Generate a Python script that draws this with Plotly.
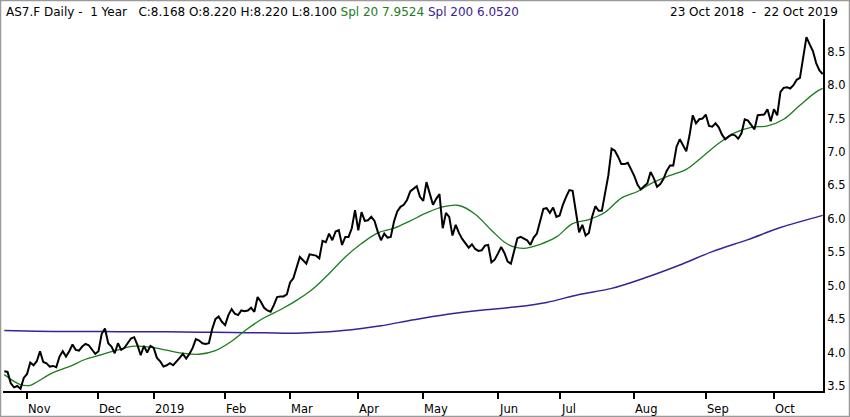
import plotly.graph_objects as go

# daily closes, one per trading day, 23 Oct 2018 .. 22 Oct 2019
close = [
    3.72, 3.71, 3.54, 3.48, 3.50, 3.46, 3.62, 3.68, 3.85, 3.81,
    3.87, 4.02, 3.86, 3.84, 3.79, 3.80, 3.78, 3.94, 4.02, 3.94,
    4.02, 4.12, 4.04, 4.03, 4.09, 4.13, 4.11, 4.04, 3.98, 4.02,
    4.28, 4.36, 4.14, 4.09, 3.99, 4.14, 4.04, 4.07, 4.15, 4.21,
    4.23, 4.11, 3.96, 4.10, 4.00, 4.10, 4.07, 3.92, 3.87, 3.79,
    3.81, 3.84, 3.81, 3.86, 3.92, 3.98, 3.91, 3.98, 4.07, 4.20,
    4.18, 4.14, 4.13, 4.14, 4.35, 4.50, 4.54, 4.46, 4.41, 4.56,
    4.65, 4.58, 4.56, 4.63, 4.62, 4.63, 4.67, 4.61, 4.83, 4.76,
    4.67, 4.63, 4.61, 4.71, 4.83, 4.84, 4.84, 4.87, 5.05, 5.11,
    5.26, 5.43, 5.38, 5.33, 5.47, 5.46, 5.45, 5.41, 5.67, 5.65,
    5.78, 5.68, 5.81, 5.83, 5.61, 5.73, 5.73, 5.86, 6.13, 5.83,
    6.10, 5.97, 5.98, 6.03, 5.97, 5.81, 5.68, 5.78, 5.72, 5.73,
    5.96, 6.11, 6.18, 6.21, 6.28, 6.41, 6.45, 6.49, 6.33, 6.27,
    6.55, 6.39, 6.21, 6.30, 6.37, 5.86, 6.09, 6.03, 5.75, 5.91,
    5.79, 5.70, 5.63, 5.57, 5.62, 5.55, 5.52, 5.53, 5.60, 5.61,
    5.35, 5.39, 5.48, 5.58, 5.49, 5.36, 5.33, 5.50, 5.71, 5.73,
    5.71, 5.68, 5.61, 5.72, 5.78, 5.95, 6.15, 6.16, 6.09, 6.17,
    6.03, 6.05, 6.21, 6.33, 6.43, 6.42, 6.07, 5.80, 5.91, 5.75,
    5.79, 6.03, 6.19, 6.12, 6.12, 6.42, 6.65, 7.05, 7.02, 6.93,
    6.82, 6.82, 6.84, 6.74, 6.64, 6.51, 6.44, 6.49, 6.53, 6.70,
    6.61, 6.48, 6.52, 6.60, 6.72, 6.80, 6.80, 7.08, 7.19, 7.10,
    7.01, 7.25, 7.55, 7.43, 7.49, 7.50, 7.56, 7.39, 7.38, 7.43,
    7.37, 7.26, 7.19, 7.23, 7.26, 7.25, 7.20, 7.28, 7.49, 7.47,
    7.41, 7.34, 7.55, 7.55, 7.56, 7.64, 7.46, 7.64, 7.55, 7.90,
    7.96, 7.97, 7.95, 8.00, 8.08, 8.11, 8.40, 8.72, 8.61, 8.51,
    8.33, 8.22, 8.168,
]

spl20_day = [0, 5, 8, 10, 15, 20, 25, 30, 35, 40, 45, 50, 55, 60, 65, 70,
             75, 80, 85, 90, 95, 100, 105, 110, 115, 120, 125, 130, 135,
             140, 145, 150, 155, 160, 165, 170, 175, 180, 185, 190, 195,
             200, 205, 210, 215, 220, 225, 230, 235, 240, 245, 250, 252]
spl20 = [3.67, 3.52, 3.51, 3.56, 3.70, 3.79, 3.90, 3.97, 4.04, 4.095, 4.08,
         4.035, 3.99, 3.975, 4.03, 4.17, 4.36, 4.52, 4.64, 4.78, 4.95, 5.18,
         5.43, 5.63, 5.79, 5.86, 5.97, 6.09, 6.18, 6.20, 6.07, 5.83, 5.62,
         5.56, 5.62, 5.73, 5.93, 5.99, 6.10, 6.31, 6.41, 6.55, 6.65, 6.74,
         6.93, 7.13, 7.29, 7.37, 7.39, 7.49, 7.70, 7.90, 7.9524]

spl200_day = [0, 10, 20, 30, 40, 50, 60, 70, 80, 90, 100, 110, 116, 126,
              136, 146, 157, 167, 177, 187, 198, 208, 218, 229, 239, 252]
spl200 = [4.33, 4.32, 4.315, 4.315, 4.31, 4.31, 4.305, 4.30, 4.295, 4.29,
          4.31, 4.36, 4.40, 4.49, 4.57, 4.63, 4.68, 4.75, 4.87, 4.96, 5.13,
          5.31, 5.51, 5.69, 5.87, 6.052]

month_day = [7, 29, 46, 68, 88, 109, 129, 152, 171, 194, 216, 237]
month_lbl = ["Nov", "Dec", "2019", "Feb", "Mar", "Apr", "May", "Jun",
             "Jul", "Aug", "Sep", "Oct"]
y_ticks = [3.5, 4.0, 4.5, 5.0, 5.5, 6.0, 6.5, 7.0, 7.5, 8.0, 8.5]

ticker = "AS7.F"
o, h, l, c = 8.220, 8.220, 8.100, 8.168
date_from, date_to = "23 Oct 2018", "22 Oct 2019"

green = "#1b7d1b"
purple = "#3b2196"
font = "DejaVu Sans"

fig = go.Figure()
fig.add_trace(go.Scatter(x=spl200_day, y=spl200, mode="lines",
                         line=dict(color=purple, width=1.5, shape="spline")))
fig.add_trace(go.Scatter(x=spl20_day, y=spl20, mode="lines",
                         line=dict(color=green, width=1.3, shape="spline")))
fig.add_trace(go.Scatter(x=list(range(len(close))), y=close, mode="lines",
                         line=dict(color="black", width=2)))

# plot area is 820 x 372 px
pw, ph = 820.0, 372.0

header = (f"{ticker} Daily -&nbsp;&nbsp;1 Year&nbsp;&nbsp;&nbsp;"
          f"C:{c:.3f} O:{o:.3f} H:{h:.3f} L:{l:.3f} "
          f"<span style='color:{green}'>Spl 20 {spl20[-1]:.4f}</span> "
          f"<span style='color:{purple}'>Spl 200 {spl200[-1]:.4f}</span>")

ann = [
    dict(text=header, xref="paper", yref="paper", x=1 / pw, y=1 + 7 / ph,
         xanchor="left", yanchor="middle", showarrow=False,
         font=dict(family=font, size=12, color="black")),
    dict(text=f"{date_from}&nbsp;&nbsp;-&nbsp;&nbsp;{date_to}", xref="paper",
         yref="paper", x=837 / pw, y=1 + 7 / ph, xanchor="right",
         yanchor="middle", showarrow=False,
         font=dict(family=font, size=12, color="black")),
]
for d, t in zip(month_day, month_lbl):
    ann.append(dict(text=t, x=d, xref="x", yref="paper", y=-9 / ph,
                    xanchor="left", yanchor="top", showarrow=False, xshift=-1,
                    font=dict(family=font, size=11.5, color="black")))

fig.update_layout(
    width=850, height=417,
    margin=dict(l=3, r=27, t=19, b=26, pad=0),
    paper_bgcolor="white", plot_bgcolor="white",
    showlegend=False,
    annotations=ann,
    shapes=[dict(type="rect", xref="paper", yref="paper",
                 x0=-2.5 / pw, x1=846.5 / pw, y0=-25.5 / ph, y1=1 + 18.5 / ph,
                 line=dict(color="#9a9a9a", width=1.5))],
    xaxis=dict(range=[-0.4, 252.1], showgrid=False, zeroline=False,
               showline=True, linecolor="black", linewidth=2,
               ticks="outside", ticklen=6, tickwidth=2, tickcolor="black",
               tickvals=month_day, showticklabels=False),
    yaxis=dict(range=[3.425, 8.99], side="right", showgrid=False,
               zeroline=False, showline=True, linecolor="black", linewidth=2,
               ticks="", tickvals=y_ticks,
               ticktext=[f"{v:.1f}" for v in y_ticks],
               tickfont=dict(family=font, size=11.5, color="black")),
)

fig.write_html("out.html", config={"displayModeBar": False},
               post_script="document.body.style.margin='0';"
                           "document.body.style.padding='0';")
